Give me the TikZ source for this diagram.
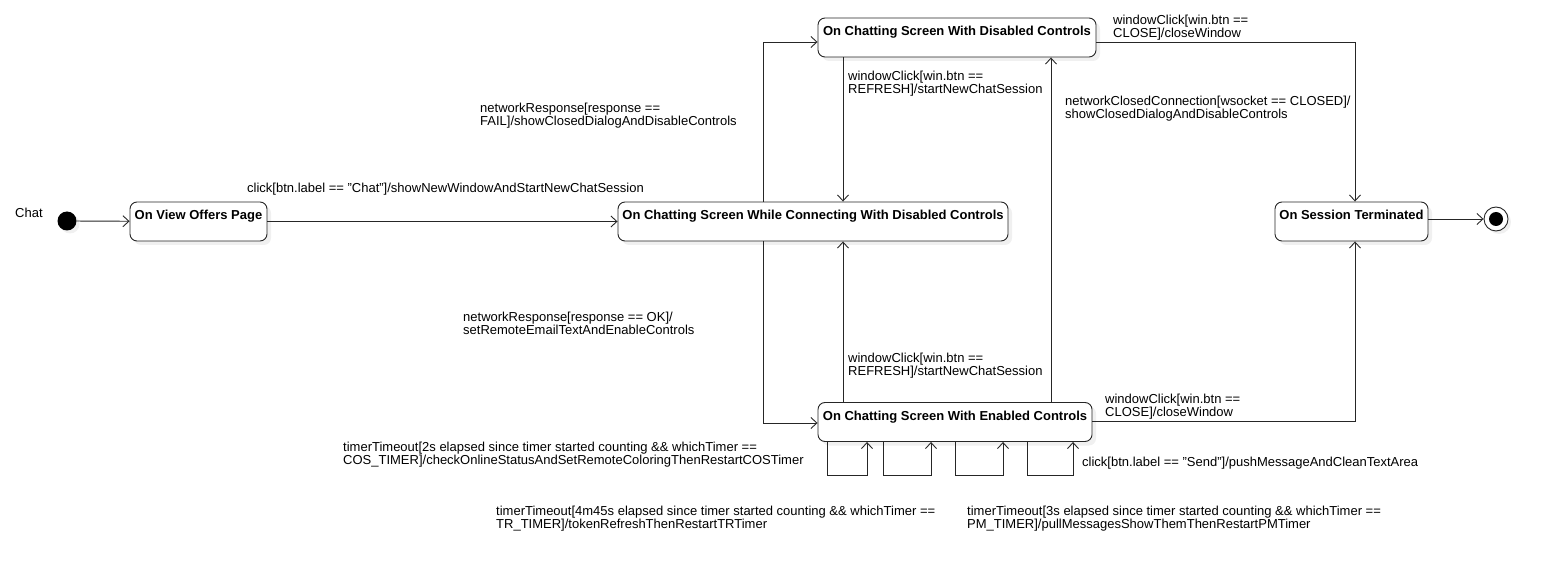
\documentclass[tikz,border=0pt]{standalone}
\usepackage{fontspec}
\setmainfont{Liberation Sans}
\usetikzlibrary{arrows.meta,shadows}

\begin{document}
\begin{tikzpicture}[x=1pt, y=-1pt,
  every node/.style = {font=\fontsize{13}{13}\selectfont},
  stbox/.style = {shape=rectangle, rounded corners=7pt,
    draw=black!85, line width=0.9pt, fill=white,
    font=\fontsize{13}{13}\selectfont\bfseries,
    inner xsep=0pt, inner ysep=0pt, text height=18pt, text depth=21pt,
    drop shadow={shadow xshift=4pt, shadow yshift=-4pt, opacity=0.12}},
  trans/.style = {draw=black!85, line width=0.9pt,
    -{Straight Barb[length=6pt, width=11pt]}},
  lbl/.style = {anchor=base west, align=left, inner sep=0pt}]
  \useasboundingbox (0,0) rectangle (1548,588);

  % states
  \node[circle, fill=black, inner sep=0pt, minimum size=19pt,
    drop shadow={shadow xshift=3pt, shadow yshift=-3pt, opacity=0.12}] (init) at (67,221) {};
  \node[lbl] (chatname) at (15,218) {Chat};
  \node[stbox, minimum width=137pt] (offers) at (198.5,221.5) {On View Offers Page};
  \node[stbox, minimum width=390pt] (connecting) at (813,221.5)
    {On Chatting Screen While Connecting With Disabled Controls};
  \node[stbox, minimum width=278pt] (disabled) at (957,37.5)
    {On Chatting Screen With Disabled Controls};
  \node[stbox, minimum width=274pt] (enabled) at (955,422)
    {On Chatting Screen With Enabled Controls};
  \node[stbox, minimum width=153pt] (terminated) at (1351.5,221.5) {On Session Terminated};
  \node[circle, draw=black!85, line width=0.9pt, fill=white, inner sep=0pt, minimum size=24pt,
    drop shadow={shadow xshift=3pt, shadow yshift=-3pt, opacity=0.12}] (final) at (1496,219) {};
  \node[circle, fill=black, inner sep=0pt, minimum size=14pt] (finaldot) at (final) {};

  % bends
  \coordinate (upbend) at (763,42);
  \coordinate (downbend) at (763,423);
  \coordinate (closetop) at (1355,42);
  \coordinate (closebot) at (1355,421);

  % transitions
  \draw[trans] (init) -- (offers);
  \draw[trans] (offers) -- (connecting);
  \draw[trans] (connecting.north -| upbend) |- (disabled.west |- upbend);
  \draw[trans] (connecting.south -| downbend) |- (enabled.west |- downbend);
  \draw[trans] (disabled.south -| 843,0) -- (connecting.north -| 843,0);
  \draw[trans] (enabled.north -| 843,0) -- (connecting.south -| 843,0);
  \draw[trans] (enabled.north -| 1051,0) -- (disabled.south -| 1051,0);
  \draw[trans] (disabled.east |- closetop) -| (terminated.north -| closetop);
  \draw[trans] (enabled.east |- closebot) -| (terminated.south -| closebot);
  \draw[trans] (terminated.east |- final) -- (final);
  \foreach \a/\b in {827/867, 883/931, 955/1003, 1027/1073}
    \draw[trans] (enabled.south -| \a,0) -- ++(0,33.5) -| (enabled.south -| \b,0);

  % labels (two-line ones are placed by their second baseline)
  \node[lbl] (chatclick) at (247,193)
    {click[btn.label == "Chat"]/showNewWindowAndStartNewChatSession};
  \node[lbl] (respfail) at (480,126)
    {networkResponse[response ==\\FAIL]/showClosedDialogAndDisableControls};
  \node[lbl] (respok) at (463,334)
    {networkResponse[response == OK]/\\setRemoteEmailTextAndEnableControls};
  \node[lbl] (refreshtop) at (848,94)
    {windowClick[win.btn ==\\REFRESH]/startNewChatSession};
  \node[lbl] (refreshbot) at (848,375)
    {windowClick[win.btn ==\\REFRESH]/startNewChatSession};
  \node[lbl] (netclosed) at (1065,119)
    {networkClosedConnection[wsocket == CLOSED]/\\showClosedDialogAndDisableControls};
  \node[lbl] (closetoplbl) at (1113,38)
    {windowClick[win.btn ==\\CLOSE]/closeWindow};
  \node[lbl] (closebotlbl) at (1105,416)
    {windowClick[win.btn ==\\CLOSE]/closeWindow};
  \node[lbl] (costimer) at (343,464)
    {timerTimeout[2s elapsed since timer started counting \&\& whichTimer ==\\COS\_TIMER]/checkOnlineStatusAndSetRemoteColoringThenRestartCOSTimer};
  \node[lbl] (trtimer) at (496,528)
    {timerTimeout[4m45s elapsed since timer started counting \&\& whichTimer ==\\TR\_TIMER]/tokenRefreshThenRestartTRTimer};
  \node[lbl] (pmtimer) at (967,528)
    {timerTimeout[3s elapsed since timer started counting \&\& whichTimer ==\\PM\_TIMER]/pullMessagesShowThemThenRestartPMTimer};
  \node[lbl] (sendclick) at (1082,466)
    {click[btn.label == "Send"]/pushMessageAndCleanTextArea};
\end{tikzpicture}
\end{document}
